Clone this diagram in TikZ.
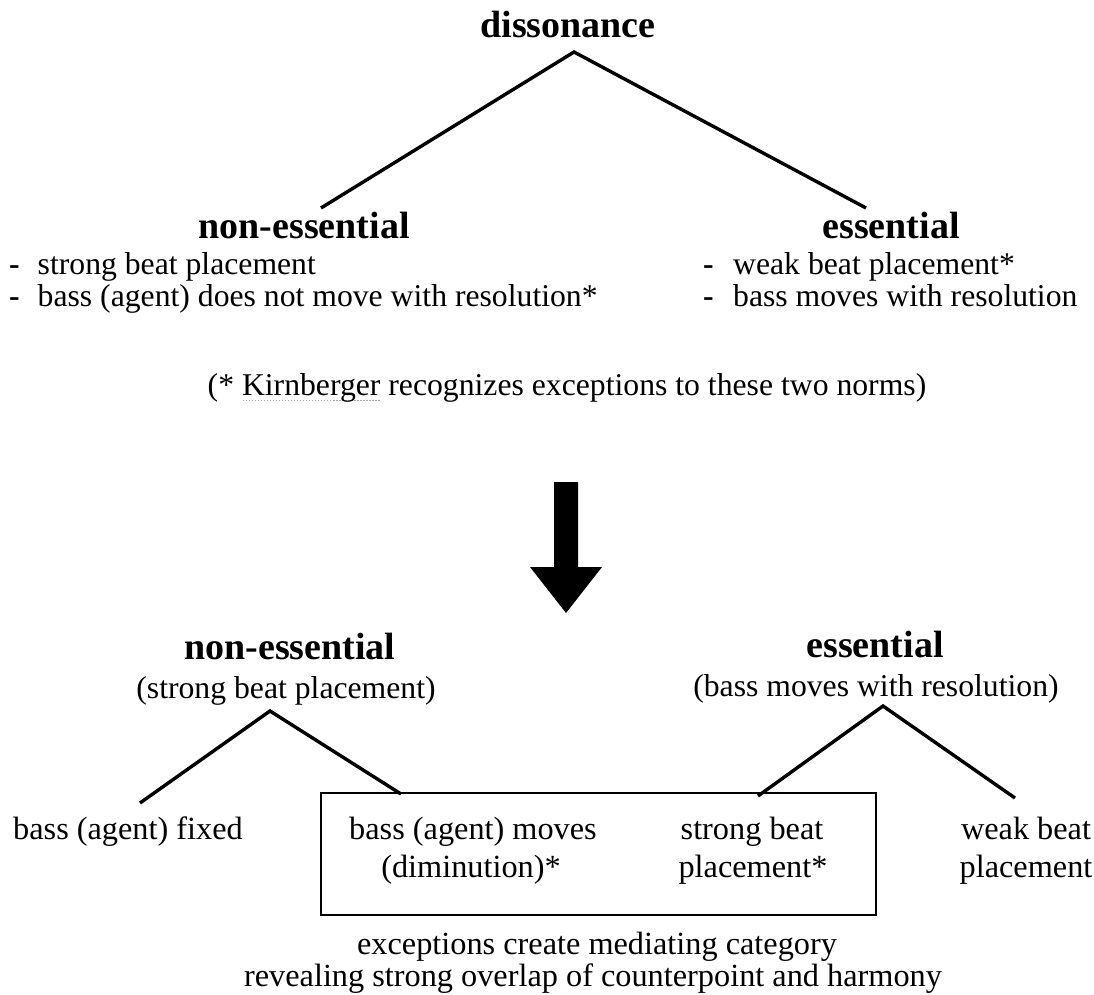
\documentclass[tikz,border=0pt]{standalone}
\usepackage{fontspec}
\setmainfont{Liberation Serif}
\newcommand\spellmark[1]{\setbox0=\hbox{#1}\rlap{\color{gray!70}\raisebox{-6pt}{\hbox to \wd0{\xleaders\hbox to 3pt{\hss\rule{1.3pt}{1.3pt}\hss}\hfill}}}#1}
\tikzset{
  head/.style={font=\fontsize{38}{44}\selectfont\bfseries, anchor=base, inner sep=0pt},
  body/.style={font=\fontsize{31.7}{38}\selectfont, anchor=base, inner sep=0pt},
  bodyw/.style={body, anchor=base west},
  dashmark/.style={bodyw, font=\fontsize{31.7}{38}\selectfont\bfseries},
  low/.style={font=\fontsize{32.3}{38}\selectfont, anchor=base, inner sep=0pt},
  branch/.style={line width=3.4pt, line join=miter},
  frame/.style={draw, line width=2.8pt, minimum width=555pt, minimum height=122pt, inner sep=0pt},
}
\begin{document}
\begin{tikzpicture}[x=1pt,y=-1pt]
\useasboundingbox (0,0) rectangle (1094,995);

% top tree
\node[head] (diss) at (568,38) {dissonance};
\node[head] (ne1) at (304,238) {non-essential};
\node[head] (e1) at (891,238) {essential};
\coordinate (topapex) at (574,52);
\coordinate (topL) at (321,208);
\coordinate (topR) at (866,208);
\draw[branch] (topL) -- (topapex) -- (topR);

% bullets
\node[dashmark] (dl1) at (9,274) {-};
\node[bodyw] (l1) at (37.5,274) {strong beat placement};
\node[dashmark] (dl2) at (9,306) {-};
\node[bodyw] (l2) at (37.5,306) {bass (agent) does not move with resolution*};
\node[dashmark] (dr1) at (703,274) {-};
\node[bodyw] (r1) at (733,274) {weak beat placement*};
\node[dashmark] (dr2) at (703,306) {-};
\node[bodyw] (r2) at (733,306) {bass moves with resolution};

\node[body] (kirn) at (567,395) {(* \spellmark{Kirnberger} recognizes exceptions to these two norms)};

% big arrow
\fill (554,482) -- (578,482) -- (578,567) -- (602,567) -- (566,613) -- (530,567) -- (554,567) -- cycle;

% bottom tree
\node[head] (ne2) at (290,659) {non-essential};
\node[body] (ne2s) at (286,698) {(strong beat placement)};
\node[head] (e2) at (875,657) {essential};
\node[body] (e2s) at (876,696) {(bass moves with resolution)};

\node[frame] (box) at (598.5,854) {};

\coordinate (apexL) at (270,711);
\coordinate (endLL) at (140,803);
\coordinate (endLR) at (401,794);
\coordinate (apexR) at (883,706);
\coordinate (endRL) at (758,796);
\coordinate (endRR) at (1015,798);
\draw[branch] (endLL) -- (apexL) -- (endLR);
\draw[branch] (endRL) -- (apexR) -- (endRR);

\node[low] (fixed) at (128,839) {bass (agent) fixed};
\node[low] (moves1) at (473,839) {bass (agent) moves};
\node[low] (moves2) at (471,877) {(diminution)*};
\node[low] (strong1) at (752,839) {strong beat};
\node[low] (strong2) at (753,877) {placement*};
\node[low] (weak1) at (1026,839) {weak beat};
\node[low] (weak2) at (1026,877) {placement};

\node[low] (exc1) at (597,954) {exceptions create mediating category};
\node[low] (exc2) at (593,986) {revealing strong overlap of counterpoint and harmony};
\end{tikzpicture}
\end{document}
